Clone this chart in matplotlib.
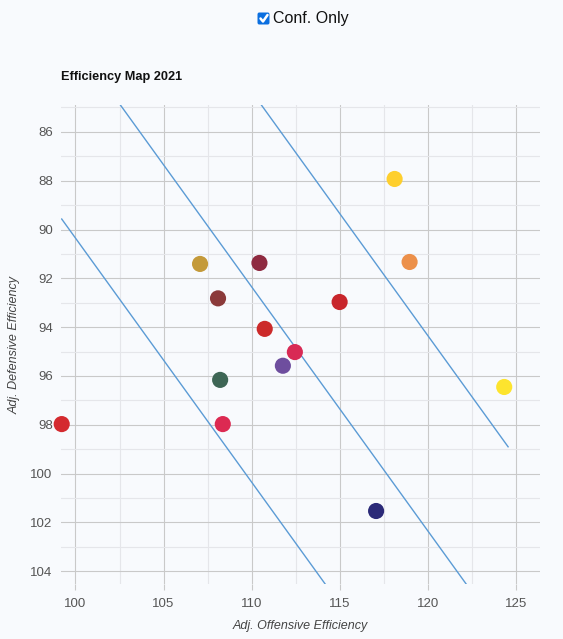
import matplotlib
matplotlib.use("Agg")
import matplotlib.pyplot as plt
from matplotlib.patches import FancyBboxPatch
from matplotlib.lines import Line2D
from matplotlib.ticker import MultipleLocator
import numpy as np

plt.rcParams['font.family'] = ['Liberation Sans', 'DejaVu Sans']

# team efficiencies (offense, defense) and colours
adj_off = [99.22, 107.07, 110.44, 108.09, 110.74, 112.45, 111.77, 108.21,
           108.36, 114.99, 118.11, 118.96, 124.33, 117.06]
adj_def = [97.97, 91.41, 91.37, 92.82, 94.07, 95.02, 95.58, 96.16,
           97.97, 92.97, 87.93, 91.33, 96.45, 101.53]
team_colors = ['#d42a2f', '#c49a3a', '#8e2a40', '#8b3a3a', '#cc2a2a', '#d82a55',
               '#6e4e9e', '#3e6655', '#dc2a52', '#c8262c', '#fecf2e', '#ec904a',
               '#fde42e', '#2b2a78']

# net efficiency reference lines (offense - defense) and their x span
margin_lines = [9.65, 17.65, 25.65]
line_x_range = [99.22, 124.55]

bg = '#f8fafd'
W, H = 563, 639
fig = plt.figure(figsize=(W / 100, H / 100), dpi=100, facecolor=bg)
ax = fig.add_axes([61 / W, 1 - 584 / H, 479 / W, 479 / H], facecolor=bg)

xs = np.array(line_x_range)
for m in margin_lines:
    ax.plot(xs, xs - m, color='#5b9bd5', lw=1.0, zorder=2)

ax.scatter(adj_off, adj_def, c=team_colors, s=135, linewidths=0, zorder=3,
           clip_on=False)

ax.set_xlim(99.18, 126.36)
ax.set_ylim(104.52, 84.9)

ax.xaxis.set_major_locator(MultipleLocator(5))
ax.xaxis.set_minor_locator(MultipleLocator(2.5))
ax.yaxis.set_major_locator(MultipleLocator(2))
ax.yaxis.set_minor_locator(MultipleLocator(1))
ax.grid(which='major', color='#c9c9c9', lw=0.8, zorder=0)
ax.grid(which='minor', color='#e5e6ea', lw=0.8, zorder=0)
ax.set_axisbelow(True)
for s in ax.spines.values():
    s.set_visible(False)

ax.tick_params(which='both', length=0)
ax.tick_params(axis='x', which='major', length=4, color='#c9c9c9', pad=6,
               labelsize=9.5, labelcolor='#555555')
ax.tick_params(axis='y', which='major', pad=6, labelsize=9.5, labelcolor='#555555')

ax.set_xlabel('Adj. Offensive Efficiency', style='italic', fontsize=9,
              color='#444444', labelpad=7)
ax.set_ylabel('Adj. Defensive Efficiency', style='italic', fontsize=9,
              color='#444444', labelpad=7)

fig.text(61 / W, 1 - 77 / H, 'Efficiency Map 2021', fontsize=9.2, weight='bold',
         color='#111111', va='center', ha='left')

# checkbox
fig.add_artist(FancyBboxPatch((257.5 / W, 1 - 24.5 / H), 12 / W, 12 / H,
                              boxstyle='round,pad=0,rounding_size=0.003',
                              transform=fig.transFigure, facecolor='#0b6fe0',
                              edgecolor='none'))
fig.add_artist(Line2D([260.5 / W, 263 / W, 267.5 / W],
                      [1 - 18.5 / H, 1 - 21.5 / H, 1 - 15 / H],
                      transform=fig.transFigure, color='white', lw=1.8,
                      solid_capstyle='round', solid_joinstyle='round'))
fig.text(273 / W, 1 - 18.5 / H, 'Conf. Only', fontsize=11.5, color='#111111',
         va='center', ha='left')

fig.savefig('out.png', dpi=100, facecolor=bg)
